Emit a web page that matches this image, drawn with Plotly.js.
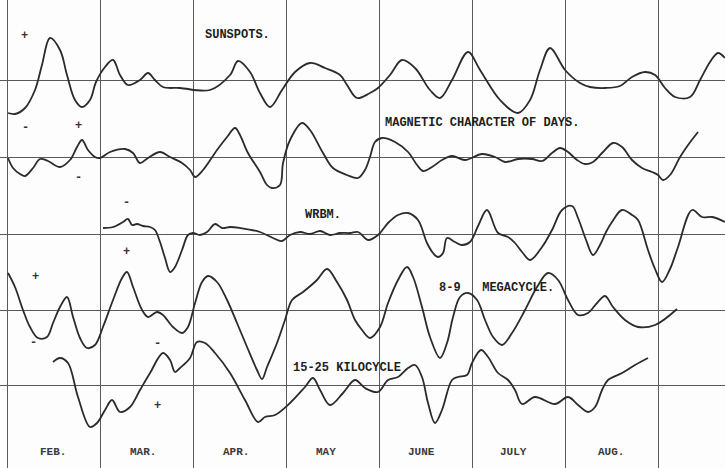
<!DOCTYPE html>
<html>
<head>
<meta charset="utf-8">
<script src="https://cdn.plot.ly/plotly-3.0.1.min.js"></script>
<style>html,body{margin:0;padding:0;background:#fdfdfd;}#chart{width:725px;height:468px;}</style>
</head>
<body>
<div id="chart"></div>
<script>
// Months (grid columns); x unit = one month, 0 = start of Feb.
const months = ["FEB.", "MAR.", "APR.", "MAY", "JUNE", "JULY", "AUG."];
const monthBounds = [0, 1, 2, 3, 4, 5, 6, 7];

// Baseline of each curve (y units)
const seriesNames = ["SUNSPOTS.", "MAGNETIC CHARACTER OF DAYS.", "WRBM.", "8-9\u00a0\u00a0\u00a0MEGACYCLE.", "15-25 KILOCYCLE"];
const baselines = [30.5, 22.8, 15.1, 7.5, 0];

// Sunspots
const sunX = [0.011,0.086,0.194,0.301,0.376,0.462,0.570,0.645,0.731,0.806,0.892,0.957,1.054,1.140,1.215,1.301,1.430,1.516,1.591,1.677,1.860,2.183,2.398,2.484,2.613,2.720,2.828,2.957,3.097,3.258,3.419,3.581,3.656,3.763,3.903,3.989,4.118,4.247,4.387,4.548,4.656,4.785,4.957,5.086,5.301,5.495,5.624,5.731,5.839,6.000,6.161,6.269,6.430,6.591,6.720,6.860,6.968,7.075,7.183,7.344,7.452,7.559,7.645,7.720];
const sunDev = [-3.3,-3.4,-2.8,-1.0,1.5,4.2,3.0,0.5,-2.0,-2.7,-2.0,-0.2,1.3,2.0,0.5,-0.5,0.0,0.7,0.0,-0.7,-0.8,-1.0,0.5,1.9,0.8,-1.3,-2.7,-1.0,0.8,1.7,1.2,0.5,-0.5,-1.8,-1.3,-0.8,0.5,2.0,1.2,-1.0,-1.8,0.0,2.8,1.0,-2.0,-3.3,-2.0,1.0,3.2,1.0,-0.3,-0.7,-0.8,-0.6,0.3,0.8,0.5,-0.8,-1.7,-1.7,0.0,1.8,2.7,2.2];

// Magnetic character of days
const magX = [0.011,0.065,0.140,0.194,0.280,0.355,0.441,0.570,0.677,0.753,0.806,0.871,0.946,1.000,1.108,1.269,1.355,1.430,1.516,1.645,1.753,1.882,1.968,2.022,2.108,2.258,2.366,2.452,2.505,2.591,2.720,2.796,2.849,2.935,2.968,3.043,3.172,3.258,3.398,3.505,3.656,3.774,3.849,3.903,3.957,4.032,4.172,4.312,4.409,4.473,4.570,4.677,4.785,4.925,5.108,5.247,5.355,5.495,5.645,5.753,5.860,5.946,6.032,6.129,6.215,6.301,6.409,6.516,6.613,6.720,6.828,6.935,7.000,7.054,7.129,7.237,7.323,7.430];
const magDev = [-0.1,-1.1,-1.7,-1.9,-1.1,-0.2,-0.4,-1.0,-0.3,1.0,1.7,0.7,0.0,-0.1,0.5,0.8,0.4,-0.6,-0.1,0.5,0.0,-0.6,-1.3,-2.0,-1.3,0.7,2.0,2.9,2.2,0.4,-1.5,-2.8,-3.1,-2.8,-0.6,1.7,3.4,2.7,0.4,-1.1,-1.8,-2.1,-1.3,0.0,1.5,1.9,1.5,0.5,-0.8,-1.4,-1.0,-0.3,0.1,-0.3,0.3,0.0,-0.5,-0.2,-0.2,-0.4,0.4,0.9,0.5,-0.3,-0.7,-0.5,0.5,1.4,1.0,-0.3,-1.1,-1.5,-1.8,-2.3,-1.8,0.0,1.2,2.5];

// WRBM
const wrbX = [1.032,1.140,1.247,1.301,1.344,1.398,1.462,1.538,1.591,1.645,1.699,1.753,1.806,1.882,1.946,2.000,2.075,2.151,2.237,2.312,2.398,2.505,2.720,2.860,2.957,3.043,3.151,3.258,3.366,3.473,3.581,3.688,3.774,3.882,3.989,4.097,4.204,4.312,4.419,4.516,4.581,4.634,4.688,4.731,4.817,4.892,4.978,5.065,5.161,5.280,5.387,5.462,5.538,5.624,5.753,5.860,5.968,6.075,6.140,6.226,6.301,6.376,6.441,6.505,6.613,6.720,6.785,6.892,6.968,7.043,7.129,7.215,7.366,7.473,7.581,7.720];
const wrbDev = [0.6,0.7,1.2,1.5,0.9,1.0,0.8,0.7,0.4,-0.8,-2.4,-3.8,-3.3,-1.6,-0.1,0.1,-0.1,0.2,1.0,0.6,0.7,0.6,0.2,-0.4,-0.7,-0.1,0.2,0.0,0.3,-0.1,0.1,0.1,0.2,-0.6,-0.1,1.1,1.9,2.1,1.4,-0.9,-1.9,-2.3,-1.9,-0.4,-0.8,-1.1,-0.8,0.8,2.4,0.1,-0.3,-0.9,-1.8,-2.6,-1.3,0.4,2.4,2.8,1.6,-0.6,-2.1,-1.1,0.2,1.2,2.4,1.9,1.4,-1.6,-3.5,-4.8,-3.5,-1.3,2.4,1.7,1.7,1.2];

// 8-9 megacycle
const megX = [0.011,0.086,0.172,0.247,0.333,0.430,0.495,0.570,0.645,0.710,0.785,0.860,0.946,1.032,1.140,1.237,1.290,1.355,1.452,1.516,1.613,1.677,1.785,1.882,1.946,2.022,2.097,2.161,2.258,2.366,2.473,2.581,2.688,2.742,2.796,2.903,2.989,3.065,3.183,3.333,3.441,3.548,3.656,3.742,3.817,3.903,4.011,4.097,4.204,4.301,4.366,4.462,4.548,4.656,4.731,4.796,4.871,4.957,5.054,5.140,5.226,5.323,5.430,5.570,5.699,5.817,5.925,6.032,6.140,6.247,6.344,6.430,6.516,6.645,6.785,6.968,7.204];
const megDev = [3.7,2.3,0.0,-1.7,-2.8,-2.7,-1.3,0.3,1.3,-0.7,-2.8,-3.8,-3.5,-1.7,1.0,3.2,3.8,2.3,0.0,-0.7,-0.2,-0.5,-1.7,-2.3,-1.7,0.7,2.8,3.4,2.8,1.0,-1.3,-3.7,-6.0,-6.9,-5.7,-3.3,-1.0,1.0,1.8,3.0,4.1,2.8,1.0,-1.0,-2.0,-2.8,-1.7,0.7,3.0,4.3,3.3,0.3,-2.7,-4.8,-3.3,-0.7,1.3,1.7,1.0,-1.0,-2.7,-3.5,-2.3,0.0,2.3,3.7,3.0,1.0,-0.5,-0.3,0.7,1.4,0.3,-1.0,-1.7,-1.5,0.1];

// 15-25 kilocycle
const kilX = [0.495,0.570,0.656,0.763,0.892,0.968,1.054,1.129,1.215,1.323,1.430,1.538,1.677,1.753,1.806,1.860,1.968,2.043,2.129,2.237,2.398,2.559,2.699,2.774,2.882,3.043,3.204,3.290,3.366,3.473,3.613,3.742,3.849,3.989,4.097,4.204,4.312,4.387,4.462,4.527,4.602,4.677,4.785,4.849,4.946,5.000,5.097,5.172,5.280,5.387,5.462,5.538,5.677,5.892,6.032,6.140,6.247,6.323,6.398,6.462,6.613,6.753,6.892];
const kilDev = [2.3,2.7,2.2,-1.2,-4.2,-3.8,-2.5,-1.5,-2.7,-2.2,-0.5,1.2,3.2,2.5,1.3,1.7,2.7,4.3,4.2,3.2,1.2,-1.5,-3.7,-3.2,-3.0,-1.8,-0.2,0.7,-0.5,-2.0,-0.8,0.5,-0.3,-0.7,0.5,0.8,1.7,2.0,0.8,-1.8,-3.8,-2.5,0.5,0.8,1.0,2.2,3.5,2.8,1.2,0.5,-0.5,-1.9,-1.2,-1.9,-1.2,-2.0,-2.7,-2.2,-0.5,0.5,1.2,2.0,2.7];

// Sign markers (+/-) per curve
const signText = ["+", "-", "+", "-", "-", "+", "+", "-", "-", "+"];
const signX = [0.183, 0.194, 0.774, 0.774, 1.280, 1.280, 0.301, 0.290, 1.613, 1.613];
const signY = [34.9, 25.7, 25.9, 20.7, 18.2, 13.3, 10.8, 4.2, 4.1, -2.1];

// Label positions
const labelX = [2.478, 5.108, 3.398, 5.258, 3.661];
const labelY = [35.0, 26.2, 17.0, 9.7, 1.7];
const monthLabelX = [0.495, 1.462, 2.462, 3.430, 4.462, 5.441, 6.495];
const monthLabelY = -6.7;

const allX = [sunX, magX, wrbX, megX, kilX];
const allDev = [sunDev, magDev, wrbDev, megDev, kilDev];

const traces = allX.map((xs, i) => ({
  type: "scatter",
  mode: "lines",
  x: xs,
  y: allDev[i].map(d => baselines[i] + d),
  line: {color: "#2b2b2b", width: 1.8, shape: "spline", smoothing: 1},
  hoverinfo: "skip",
  showlegend: false
}));

const mono = "Liberation Mono, Courier New, monospace";
const annotations = [];
seriesNames.forEach((t, i) => annotations.push({
  x: labelX[i], y: labelY[i], xref: "x", yref: "y", text: "<b>" + t + "</b>",
  showarrow: false, font: {family: mono, size: 12, color: "#1e1e1e"}
}));
signText.forEach((t, i) => annotations.push({
  x: signX[i], y: signY[i], xref: "x", yref: "y", text: "<b>" + t + "</b>",
  showarrow: false, font: {family: mono, size: 12, color: "#333"}
}));
months.forEach((t, i) => annotations.push({
  x: monthLabelX[i], y: monthLabelY, xref: "x", yref: "y", text: "<b>" + t + "</b>",
  showarrow: false, font: {family: mono, size: 11, color: "#3a3a3a"}
}));

const layout = {
  width: 725, height: 468,
  margin: {l: 0, r: 0, t: 0, b: 0, pad: 0},
  paper_bgcolor: "#fdfdfd", plot_bgcolor: "#fdfdfd",
  showlegend: false,
  xaxis: {range: [-0.0753, 7.72], tickvals: monthBounds, showticklabels: false, ticks: "",
          showgrid: true, gridcolor: "#5a5a5a", gridwidth: 1, zeroline: false, showline: false, fixedrange: true},
  yaxis: {range: [-8.3, 38.5], tickvals: baselines, showticklabels: false, ticks: "",
          showgrid: true, gridcolor: "#5a5a5a", gridwidth: 1, zeroline: false, showline: false, fixedrange: true},
  annotations: annotations
};

Plotly.newPlot("chart", traces, layout, {staticPlot: true, displayModeBar: false});
</script>
</body>
</html>
